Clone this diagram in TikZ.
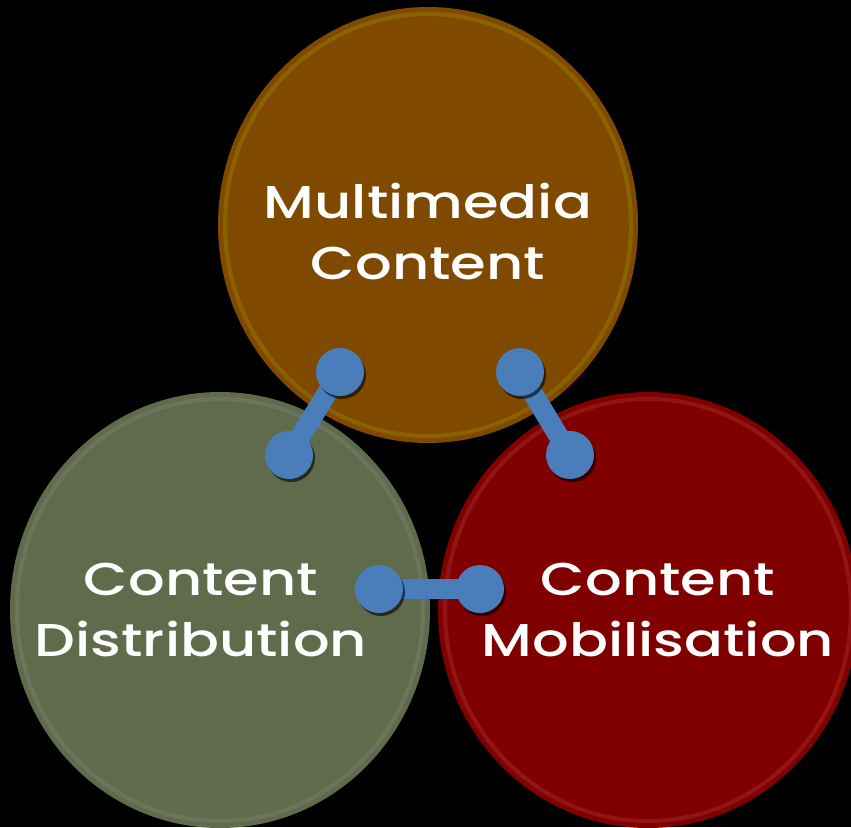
\documentclass[tikz,border=0pt]{standalone}
\usepackage{fontspec}
\newfontfamily\labelfont{Poppins}[UprightFont={* Medium}]
\usetikzlibrary{shapes.geometric,shadows,positioning}
\definecolor{mediabrown}{HTML}{7F4A00}
\definecolor{distgreen}{HTML}{606B4B}
\definecolor{mobred}{HTML}{800000}
\definecolor{linkblue}{HTML}{4A7EBB}
\pgfdeclarelayer{front}
\pgfsetlayers{main,front}
\newcommand\wide[1]{\scalebox{1.25}[1]{#1}}

\begin{document}
\begin{tikzpicture}[x=1pt, y=-1pt,
    bubble/.style={ellipse, minimum width=420pt, minimum height=436pt, inner sep=0pt},
    rim/.style={draw=#1, line width=4pt, opacity=0.3},
    caption/.style={text=white, align=center,
        font=\labelfont\fontsize{46}{61}\selectfont},
    knob/.style={circle, fill=linkblue, minimum size=48pt, inner sep=0pt,
        drop shadow={shadow xshift=2pt, shadow yshift=-3pt, opacity=0.6, fill=black}},
    bar/.style={draw=linkblue, line width=20pt,
        preaction={draw=black, opacity=0.35, transform canvas={shift={(2pt,-3pt)}}}}]

    \fill[black] (0,0) rectangle (851,827);
    \useasboundingbox (0,0) rectangle (851,827);

    % bubbles
    \node[bubble, fill=distgreen] (dist) at (220,610) {};
    \draw[rim=gray!90] (dist.center) ellipse [x radius=203, y radius=211];
    \node[bubble, fill=mobred] (mob) at (648,610) {};
    \draw[rim=red!45!gray] (mob.center) ellipse [x radius=203, y radius=211];
    \node[bubble, fill=mediabrown] (media) at (428,225) {};
    \draw[rim=olive!80!yellow] (media.center) ellipse [x radius=203, y radius=211];

    % captions
    \node[caption] (mediatext) at ([yshift=-6pt]media.center) {\wide{Multimedia}\\\wide{Content}};
    \node[caption] (disttext) at ([xshift=-19pt]dist.center) {\wide{Content}\\\wide{Distribution}};
    \node[caption] (mobtext) at ([xshift=10pt]mob.center) {\wide{Content}\\\wide{Mobilisation}};

    % connectors
    \begin{pgfonlayer}{front}
        \node[knob] (k1) at (340,372) {};
        \node[knob] (k2) at (289,455) {};
        \node[knob] (k3) at (520,372) {};
        \node[knob] (k4) at (570,455) {};
        \node[knob] (k5) at (379,589) {};
        \node[knob] (k6) at (480,589) {};
    \end{pgfonlayer}
    \draw[bar] (k1.center) -- (k2.center);
    \draw[bar] (k3.center) -- (k4.center);
    \draw[bar] (k5.center) -- (k6.center);
\end{tikzpicture}
\end{document}
